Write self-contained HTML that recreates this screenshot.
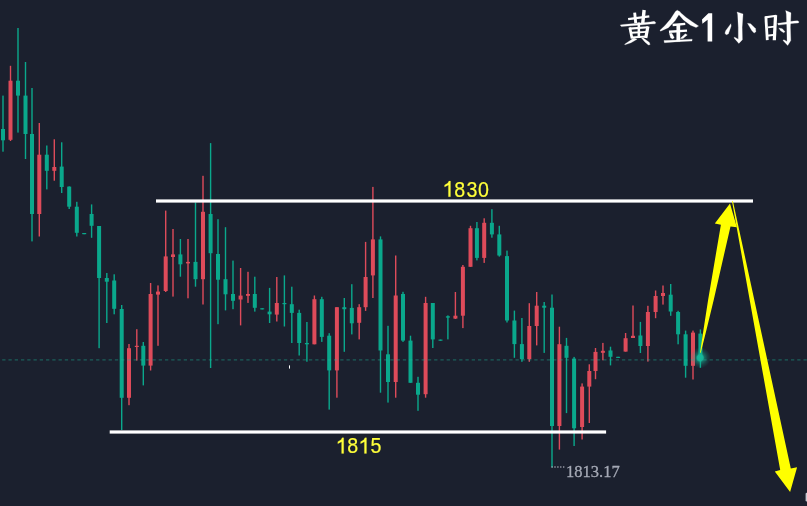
<!DOCTYPE html>
<html><head><meta charset="utf-8"><title>Gold 1H</title>
<style>
html,body{margin:0;padding:0;background:#1b202e;}
body{width:807px;height:506px;overflow:hidden;font-family:"Liberation Sans",sans-serif;}
svg{display:block;will-change:transform}
text{font-family:"Liberation Sans",sans-serif}
</style></head><body>
<svg width="807" height="506" viewBox="0 0 807 506">
<rect width="807" height="506" fill="#1b202e"/>
<g id="candles">
<rect x="2.30" y="95.6" width="1.4" height="56.1" fill="#0aa88c"/>
<rect x="1.00" y="129.0" width="4.0" height="11.3" fill="#0aa88c"/>
<rect x="9.80" y="65.8" width="1.4" height="75.2" fill="#de4b5a"/>
<rect x="8.50" y="80.7" width="4.0" height="59.1" fill="#de4b5a"/>
<rect x="17.30" y="28.0" width="1.4" height="104.6" fill="#0aa88c"/>
<rect x="16.00" y="80.7" width="4.0" height="14.9" fill="#0aa88c"/>
<rect x="24.80" y="62.0" width="1.4" height="97.0" fill="#0aa88c"/>
<rect x="23.50" y="95.6" width="4.0" height="38.4" fill="#0aa88c"/>
<rect x="31.30" y="88.0" width="1.4" height="153.4" fill="#0aa88c"/>
<rect x="30.00" y="134.0" width="4.0" height="80.0" fill="#0aa88c"/>
<rect x="38.60" y="123.0" width="1.4" height="113.5" fill="#de4b5a"/>
<rect x="37.30" y="154.7" width="4.0" height="59.3" fill="#de4b5a"/>
<rect x="46.10" y="145.5" width="1.4" height="43.9" fill="#0aa88c"/>
<rect x="44.80" y="154.7" width="4.0" height="16.1" fill="#0aa88c"/>
<rect x="53.60" y="139.3" width="1.4" height="41.4" fill="#de4b5a"/>
<rect x="52.30" y="167.0" width="4.0" height="3.8" fill="#de4b5a"/>
<rect x="61.00" y="142.3" width="1.4" height="50.7" fill="#0aa88c"/>
<rect x="59.70" y="166.6" width="4.0" height="20.4" fill="#0aa88c"/>
<rect x="68.50" y="186.4" width="1.4" height="22.6" fill="#0aa88c"/>
<rect x="67.20" y="186.6" width="4.0" height="20.1" fill="#0aa88c"/>
<rect x="76.10" y="201.8" width="1.4" height="34.7" fill="#0aa88c"/>
<rect x="74.80" y="206.7" width="4.0" height="26.1" fill="#0aa88c"/>
<rect x="83.50" y="233.0" width="1.4" height="1.2" fill="#0aa88c"/>
<rect x="82.20" y="233.0" width="4.0" height="1.2" fill="#0aa88c"/>
<rect x="90.90" y="204.4" width="1.4" height="33.4" fill="#0aa88c"/>
<rect x="89.60" y="214.0" width="4.0" height="11.8" fill="#0aa88c"/>
<rect x="98.40" y="226.0" width="1.4" height="122.2" fill="#0aa88c"/>
<rect x="97.10" y="226.0" width="4.0" height="52.0" fill="#0aa88c"/>
<rect x="106.10" y="273.0" width="1.4" height="50.0" fill="#0aa88c"/>
<rect x="104.80" y="278.0" width="4.0" height="3.7" fill="#0aa88c"/>
<rect x="113.50" y="274.3" width="1.4" height="40.0" fill="#0aa88c"/>
<rect x="112.20" y="280.5" width="4.0" height="28.3" fill="#0aa88c"/>
<rect x="121.00" y="305.0" width="1.4" height="125.0" fill="#0aa88c"/>
<rect x="119.70" y="309.0" width="4.0" height="88.8" fill="#0aa88c"/>
<rect x="128.30" y="344.0" width="1.4" height="61.2" fill="#de4b5a"/>
<rect x="127.00" y="348.2" width="4.0" height="49.6" fill="#de4b5a"/>
<rect x="136.10" y="329.2" width="1.4" height="31.4" fill="#de4b5a"/>
<rect x="134.80" y="345.8" width="4.0" height="1.2" fill="#de4b5a"/>
<rect x="142.60" y="342.0" width="1.4" height="43.4" fill="#0aa88c"/>
<rect x="141.30" y="345.8" width="4.0" height="19.8" fill="#0aa88c"/>
<rect x="149.90" y="283.0" width="1.4" height="87.5" fill="#de4b5a"/>
<rect x="148.60" y="294.0" width="4.0" height="71.6" fill="#de4b5a"/>
<rect x="157.30" y="285.4" width="1.4" height="60.4" fill="#de4b5a"/>
<rect x="156.00" y="291.6" width="4.0" height="3.0" fill="#de4b5a"/>
<rect x="165.00" y="210.6" width="1.4" height="81.4" fill="#de4b5a"/>
<rect x="163.70" y="256.4" width="4.0" height="34.6" fill="#de4b5a"/>
<rect x="172.30" y="229.0" width="1.4" height="67.6" fill="#de4b5a"/>
<rect x="171.00" y="254.4" width="4.0" height="2.6" fill="#de4b5a"/>
<rect x="179.70" y="239.0" width="1.4" height="37.7" fill="#0aa88c"/>
<rect x="178.40" y="254.4" width="4.0" height="9.9" fill="#0aa88c"/>
<rect x="187.30" y="239.0" width="1.4" height="59.3" fill="#de4b5a"/>
<rect x="186.00" y="261.9" width="4.0" height="1.5" fill="#de4b5a"/>
<rect x="194.80" y="202.4" width="1.4" height="84.3" fill="#0aa88c"/>
<rect x="193.50" y="261.9" width="4.0" height="17.3" fill="#0aa88c"/>
<rect x="202.30" y="175.8" width="1.4" height="128.7" fill="#de4b5a"/>
<rect x="201.00" y="211.8" width="4.0" height="67.4" fill="#de4b5a"/>
<rect x="209.90" y="143.1" width="1.4" height="224.9" fill="#0aa88c"/>
<rect x="208.60" y="214.0" width="4.0" height="39.2" fill="#0aa88c"/>
<rect x="217.30" y="219.2" width="1.4" height="105.0" fill="#0aa88c"/>
<rect x="216.00" y="254.0" width="4.0" height="25.7" fill="#0aa88c"/>
<rect x="224.80" y="227.2" width="1.4" height="83.2" fill="#0aa88c"/>
<rect x="223.50" y="279.2" width="4.0" height="15.1" fill="#0aa88c"/>
<rect x="232.30" y="260.6" width="1.4" height="48.6" fill="#0aa88c"/>
<rect x="231.00" y="294.0" width="4.0" height="6.8" fill="#0aa88c"/>
<rect x="239.90" y="268.0" width="1.4" height="57.4" fill="#de4b5a"/>
<rect x="238.60" y="295.6" width="4.0" height="3.9" fill="#de4b5a"/>
<rect x="247.30" y="271.8" width="1.4" height="31.1" fill="#de4b5a"/>
<rect x="246.00" y="294.0" width="4.0" height="1.8" fill="#de4b5a"/>
<rect x="254.10" y="276.7" width="1.4" height="34.9" fill="#0aa88c"/>
<rect x="252.80" y="294.0" width="4.0" height="13.8" fill="#0aa88c"/>
<rect x="261.50" y="308.3" width="1.4" height="1.1" fill="#0aa88c"/>
<rect x="260.20" y="308.3" width="4.0" height="1.1" fill="#0aa88c"/>
<rect x="268.90" y="287.9" width="1.4" height="35.1" fill="#0aa88c"/>
<rect x="267.60" y="311.6" width="4.0" height="2.7" fill="#0aa88c"/>
<rect x="276.10" y="277.0" width="1.4" height="44.5" fill="#de4b5a"/>
<rect x="274.80" y="303.0" width="4.0" height="11.6" fill="#de4b5a"/>
<rect x="283.70" y="275.4" width="1.4" height="51.1" fill="#0aa88c"/>
<rect x="282.40" y="303.0" width="4.0" height="1.2" fill="#0aa88c"/>
<rect x="291.10" y="286.7" width="1.4" height="56.3" fill="#0aa88c"/>
<rect x="289.80" y="304.2" width="4.0" height="8.7" fill="#0aa88c"/>
<rect x="298.50" y="309.7" width="1.4" height="45.8" fill="#0aa88c"/>
<rect x="297.20" y="312.9" width="4.0" height="30.1" fill="#0aa88c"/>
<rect x="306.20" y="322.0" width="1.4" height="39.7" fill="#0aa88c"/>
<rect x="304.90" y="343.0" width="4.0" height="1.3" fill="#0aa88c"/>
<rect x="313.70" y="295.5" width="1.4" height="48.8" fill="#de4b5a"/>
<rect x="312.40" y="299.2" width="4.0" height="45.1" fill="#de4b5a"/>
<rect x="321.10" y="296.8" width="1.4" height="45.1" fill="#0aa88c"/>
<rect x="319.80" y="299.2" width="4.0" height="37.7" fill="#0aa88c"/>
<rect x="328.50" y="333.2" width="1.4" height="76.4" fill="#0aa88c"/>
<rect x="327.20" y="335.7" width="4.0" height="34.7" fill="#0aa88c"/>
<rect x="336.20" y="307.2" width="1.4" height="90.5" fill="#de4b5a"/>
<rect x="334.90" y="307.2" width="4.0" height="63.2" fill="#de4b5a"/>
<rect x="343.60" y="298.0" width="1.4" height="53.8" fill="#0aa88c"/>
<rect x="342.30" y="307.2" width="4.0" height="2.0" fill="#0aa88c"/>
<rect x="351.10" y="284.2" width="1.4" height="50.2" fill="#0aa88c"/>
<rect x="349.80" y="307.9" width="4.0" height="15.4" fill="#0aa88c"/>
<rect x="358.50" y="304.2" width="1.4" height="35.2" fill="#de4b5a"/>
<rect x="357.20" y="307.2" width="4.0" height="15.6" fill="#de4b5a"/>
<rect x="364.90" y="241.9" width="1.4" height="69.0" fill="#de4b5a"/>
<rect x="363.60" y="277.0" width="4.0" height="30.2" fill="#de4b5a"/>
<rect x="372.20" y="186.9" width="1.4" height="111.1" fill="#de4b5a"/>
<rect x="370.90" y="239.4" width="4.0" height="36.0" fill="#de4b5a"/>
<rect x="379.80" y="236.4" width="1.4" height="156.3" fill="#0aa88c"/>
<rect x="378.50" y="239.4" width="4.0" height="111.1" fill="#0aa88c"/>
<rect x="387.30" y="325.8" width="1.4" height="76.8" fill="#0aa88c"/>
<rect x="386.00" y="354.3" width="4.0" height="27.7" fill="#0aa88c"/>
<rect x="395.00" y="255.5" width="1.4" height="142.2" fill="#de4b5a"/>
<rect x="393.70" y="295.5" width="4.0" height="86.5" fill="#de4b5a"/>
<rect x="402.30" y="291.8" width="1.4" height="50.1" fill="#0aa88c"/>
<rect x="401.00" y="294.0" width="4.0" height="46.6" fill="#0aa88c"/>
<rect x="409.80" y="335.7" width="1.4" height="47.1" fill="#0aa88c"/>
<rect x="408.50" y="340.6" width="4.0" height="42.2" fill="#0aa88c"/>
<rect x="417.30" y="376.8" width="1.4" height="34.0" fill="#0aa88c"/>
<rect x="416.00" y="382.8" width="4.0" height="11.9" fill="#0aa88c"/>
<rect x="424.90" y="296.8" width="1.4" height="100.9" fill="#de4b5a"/>
<rect x="423.60" y="303.0" width="4.0" height="91.2" fill="#de4b5a"/>
<rect x="432.10" y="303.0" width="1.4" height="45.0" fill="#0aa88c"/>
<rect x="430.80" y="303.0" width="4.0" height="36.4" fill="#0aa88c"/>
<rect x="439.80" y="339.6" width="1.4" height="1.1" fill="#0aa88c"/>
<rect x="438.50" y="339.6" width="4.0" height="1.1" fill="#0aa88c"/>
<rect x="447.20" y="315.4" width="1.4" height="24.0" fill="#0aa88c"/>
<rect x="445.90" y="316.3" width="4.0" height="1.3" fill="#0aa88c"/>
<rect x="454.70" y="292.0" width="1.4" height="27.0" fill="#de4b5a"/>
<rect x="453.40" y="315.7" width="4.0" height="2.9" fill="#de4b5a"/>
<rect x="462.20" y="265.0" width="1.4" height="63.1" fill="#de4b5a"/>
<rect x="460.90" y="266.8" width="4.0" height="48.9" fill="#de4b5a"/>
<rect x="469.80" y="225.8" width="1.4" height="41.0" fill="#de4b5a"/>
<rect x="468.50" y="228.2" width="4.0" height="38.6" fill="#de4b5a"/>
<rect x="476.20" y="222.0" width="1.4" height="38.4" fill="#0aa88c"/>
<rect x="474.90" y="228.2" width="4.0" height="29.7" fill="#0aa88c"/>
<rect x="483.50" y="218.3" width="1.4" height="44.6" fill="#de4b5a"/>
<rect x="482.20" y="222.8" width="4.0" height="35.1" fill="#de4b5a"/>
<rect x="491.20" y="209.2" width="1.4" height="28.5" fill="#0aa88c"/>
<rect x="489.90" y="222.8" width="4.0" height="11.6" fill="#0aa88c"/>
<rect x="498.60" y="225.8" width="1.4" height="30.8" fill="#0aa88c"/>
<rect x="497.30" y="234.4" width="4.0" height="21.1" fill="#0aa88c"/>
<rect x="506.30" y="250.6" width="1.4" height="71.9" fill="#0aa88c"/>
<rect x="505.00" y="256.1" width="4.0" height="64.4" fill="#0aa88c"/>
<rect x="513.70" y="310.6" width="1.4" height="47.2" fill="#0aa88c"/>
<rect x="512.40" y="320.5" width="4.0" height="23.6" fill="#0aa88c"/>
<rect x="521.20" y="318.0" width="1.4" height="43.8" fill="#0aa88c"/>
<rect x="519.90" y="344.1" width="4.0" height="15.1" fill="#0aa88c"/>
<rect x="528.60" y="303.2" width="1.4" height="58.6" fill="#de4b5a"/>
<rect x="527.30" y="326.0" width="4.0" height="33.2" fill="#de4b5a"/>
<rect x="536.00" y="292.0" width="1.4" height="53.4" fill="#de4b5a"/>
<rect x="534.70" y="305.7" width="4.0" height="20.3" fill="#de4b5a"/>
<rect x="543.50" y="302.0" width="1.4" height="50.9" fill="#0aa88c"/>
<rect x="542.20" y="305.7" width="4.0" height="2.0" fill="#0aa88c"/>
<rect x="551.30" y="294.5" width="1.4" height="172.9" fill="#0aa88c"/>
<rect x="550.00" y="307.7" width="4.0" height="118.3" fill="#0aa88c"/>
<rect x="558.70" y="326.7" width="1.4" height="122.9" fill="#de4b5a"/>
<rect x="557.40" y="344.2" width="4.0" height="81.8" fill="#de4b5a"/>
<rect x="565.80" y="337.9" width="1.4" height="75.2" fill="#0aa88c"/>
<rect x="564.50" y="345.8" width="4.0" height="12.0" fill="#0aa88c"/>
<rect x="573.40" y="356.9" width="1.4" height="89.1" fill="#0aa88c"/>
<rect x="572.10" y="358.6" width="4.0" height="69.7" fill="#0aa88c"/>
<rect x="581.40" y="383.4" width="1.4" height="56.1" fill="#de4b5a"/>
<rect x="580.10" y="386.6" width="4.0" height="40.4" fill="#de4b5a"/>
<rect x="588.60" y="364.3" width="1.4" height="58.7" fill="#de4b5a"/>
<rect x="587.30" y="371.0" width="4.0" height="15.6" fill="#de4b5a"/>
<rect x="594.80" y="348.0" width="1.4" height="31.2" fill="#de4b5a"/>
<rect x="593.50" y="351.9" width="4.0" height="19.1" fill="#de4b5a"/>
<rect x="602.20" y="342.9" width="1.4" height="17.4" fill="#de4b5a"/>
<rect x="600.90" y="350.8" width="4.0" height="2.0" fill="#de4b5a"/>
<rect x="609.80" y="346.7" width="1.4" height="18.7" fill="#0aa88c"/>
<rect x="608.50" y="350.5" width="4.0" height="6.3" fill="#0aa88c"/>
<rect x="617.40" y="356.8" width="1.4" height="1.1" fill="#0aa88c"/>
<rect x="616.10" y="356.8" width="4.0" height="1.1" fill="#0aa88c"/>
<rect x="624.90" y="333.0" width="1.4" height="18.6" fill="#de4b5a"/>
<rect x="623.60" y="338.2" width="4.0" height="13.4" fill="#de4b5a"/>
<rect x="632.30" y="305.5" width="1.4" height="32.5" fill="#de4b5a"/>
<rect x="631.00" y="335.8" width="4.0" height="2.2" fill="#de4b5a"/>
<rect x="639.70" y="321.9" width="1.4" height="31.1" fill="#0aa88c"/>
<rect x="638.40" y="335.5" width="4.0" height="10.5" fill="#0aa88c"/>
<rect x="647.20" y="305.8" width="1.4" height="55.8" fill="#de4b5a"/>
<rect x="645.90" y="312.0" width="4.0" height="34.0" fill="#de4b5a"/>
<rect x="654.90" y="290.5" width="1.4" height="27.7" fill="#de4b5a"/>
<rect x="653.60" y="296.0" width="4.0" height="16.0" fill="#de4b5a"/>
<rect x="662.30" y="285.5" width="1.4" height="19.1" fill="#de4b5a"/>
<rect x="661.00" y="293.0" width="4.0" height="3.0" fill="#de4b5a"/>
<rect x="670.00" y="284.0" width="1.4" height="31.8" fill="#0aa88c"/>
<rect x="668.70" y="294.7" width="4.0" height="16.8" fill="#0aa88c"/>
<rect x="677.40" y="310.8" width="1.4" height="33.5" fill="#0aa88c"/>
<rect x="676.10" y="312.0" width="4.0" height="22.3" fill="#0aa88c"/>
<rect x="684.90" y="330.6" width="1.4" height="47.1" fill="#0aa88c"/>
<rect x="683.60" y="334.3" width="4.0" height="31.5" fill="#0aa88c"/>
<rect x="692.30" y="330.6" width="1.4" height="48.9" fill="#de4b5a"/>
<rect x="691.00" y="332.6" width="4.0" height="33.2" fill="#de4b5a"/>
<rect x="699.70" y="329.4" width="1.4" height="38.4" fill="#0aa88c"/>
<rect x="698.40" y="333.6" width="4.0" height="23.8" fill="#0aa88c"/>
</g>
<line x1="2.2" y1="359.9" x2="807" y2="359.9" stroke="#1eb99b" stroke-width="1.3" stroke-dasharray="3.3 2.96" opacity="0.4"/>
<rect x="289" y="365.4" width="1" height="3.2" fill="#fff"/>
<rect x="156" y="199.4" width="597" height="3.2" fill="#fff"/>
<rect x="109.7" y="430.4" width="496.4" height="3.2" fill="#fff"/>
<g fill="#ffff3a" stroke="#ffff3a" stroke-width="0.2"><polygon points="450.5,181.1 448.9,181.1 447.9,183.0 444.6,185.0 444.6,187.0 448.4,185.0 448.4,196.7 450.5,196.7"/><text transform="translate(459.80 196.5) scale(0.9 1)" x="0" y="0" text-anchor="middle" font-size="21.8">8</text><text transform="translate(471.85 196.5) scale(0.9 1)" x="0" y="0" text-anchor="middle" font-size="21.8">3</text><text transform="translate(483.55 196.5) scale(0.9 1)" x="0" y="0" text-anchor="middle" font-size="21.8">0</text><polygon points="343.7,437.8 342.1,437.8 341.1,439.7 337.8,441.7 337.8,443.7 341.6,441.7 341.6,453.4 343.7,453.4"/><text transform="translate(352.80 453.2) scale(0.9 1)" x="0" y="0" text-anchor="middle" font-size="21.8">8</text><polygon points="366.5,437.8 364.9,437.8 363.9,439.7 360.6,441.7 360.6,443.7 364.4,441.7 364.4,453.4 366.5,453.4"/><text transform="translate(376.00 453.2) scale(0.9 1)" x="0" y="0" text-anchor="middle" font-size="21.8">5</text></g>
<g fill="#c8cad4"><rect x="551.5" y="466.4" width="1.2" height="1.2"/><rect x="554.4" y="466.4" width="1.2" height="1.2"/><rect x="557.3" y="466.4" width="1.2" height="1.2"/><rect x="560.2" y="466.4" width="1.2" height="1.2"/><rect x="563.1" y="466.4" width="1.2" height="1.2"/></g>
<text x="566" y="477.1" font-size="16.5" fill="#a6aab6" stroke="#a6aab6" stroke-width="0.3" style="font-family:'Liberation Serif',serif">1813.17</text>
<defs><radialGradient id="glow"><stop offset="0" stop-color="#16b99b" stop-opacity="1"/><stop offset="0.28" stop-color="#16b99b" stop-opacity="0.95"/><stop offset="0.42" stop-color="#14b496" stop-opacity="0.5"/><stop offset="0.7" stop-color="#14b496" stop-opacity="0.2"/><stop offset="1" stop-color="#14b496" stop-opacity="0"/></radialGradient></defs>
<circle cx="700.2" cy="357.8" r="10.5" fill="url(#glow)"/>
<g id="arrows" fill="#ffff00">
<polygon points="700,353 703.5,329.7 708.1,300 715.75,255 720.9,224.7 714.8,223.5 730,203.5 736.9,227.3 730.5,226.6 723.95,255 713.7,300 706.5,329.7 700.8,352.6"/>
<polygon points="732,201.2 732.9,200.9 790.8,468.5 797.1,467.2 790.1,491.9 774.8,471.6 780.2,470.1"/>
</g>
<g id="title">
<path d="M634.66 12.59 L635.73 23.21" fill="none" stroke="#fff" stroke-width="2.89" stroke-linecap="butt" stroke-linejoin="round"/>
<path d="M644.11 10.04 L642.74 23.36" fill="none" stroke="#fff" stroke-width="3.40" stroke-linecap="butt" stroke-linejoin="round"/>
<path d="M628.11 19.06 L649.31 16.30" fill="none" stroke="#fff" stroke-width="2.29" stroke-linecap="butt" stroke-linejoin="round"/>
<polygon points="620.16,24.93 621.41,26.62 637.24,25.28 650.59,24.04 655.21,23.86 655.75,22.44 654.15,21.37 650.14,21.90 637.24,23.15 623.45,24.48" fill="#fff" stroke="#fff" stroke-width="0.25" stroke-linejoin="round"/>
<path d="M629.78 27.51 L632.07 38.54" fill="none" stroke="#fff" stroke-width="2.72" stroke-linecap="butt" stroke-linejoin="round"/>
<path d="M629.34 28.62 L648.35 27.20" fill="none" stroke="#fff" stroke-width="2.04" stroke-linecap="butt" stroke-linejoin="round"/>
<path d="M647.92 26.47 L645.78 37.98" fill="none" stroke="#fff" stroke-width="3.23" stroke-linecap="butt" stroke-linejoin="round"/>
<path d="M638.84 22.47 L638.84 37.79" fill="none" stroke="#fff" stroke-width="2.55" stroke-linecap="butt" stroke-linejoin="round"/>
<path d="M631.52 32.79 L646.70 31.83" fill="none" stroke="#fff" stroke-width="1.87" stroke-linecap="butt" stroke-linejoin="round"/>
<path d="M631.45 37.51 L646.42 36.54" fill="none" stroke="#fff" stroke-width="2.12" stroke-linecap="butt" stroke-linejoin="round"/>
<polygon points="633.86,38.10 637.06,39.25 631.01,42.81 624.96,44.86 624.61,44.15 630.12,40.59" fill="#fff" stroke="#fff" stroke-width="0.25" stroke-linejoin="round"/>
<polygon points="641.51,38.10 643.29,38.10 649.25,42.37 650.14,44.59 648.36,45.04 644.80,41.92" fill="#fff" stroke="#fff" stroke-width="0.25" stroke-linejoin="round"/>
<polygon points="677.24,10.16 680.44,12.12 679.02,14.43 675.02,20.66 668.35,27.78 660.52,31.16 659.98,30.27 664.79,25.82 670.57,19.06 675.46,11.41" fill="#fff" stroke="#fff" stroke-width="0.25" stroke-linejoin="round"/>
<polygon points="678.31,12.12 680.62,12.65 686.14,17.46 693.26,22.44 698.59,26.00 696.10,27.60 690.59,25.28 683.47,19.95 678.31,14.07" fill="#fff" stroke="#fff" stroke-width="0.25" stroke-linejoin="round"/>
<path d="M672.62 24.99 L685.25 23.89" fill="none" stroke="#fff" stroke-width="2.38" stroke-linecap="butt" stroke-linejoin="round"/>
<path d="M668.97 31.74 L687.03 30.58" fill="none" stroke="#fff" stroke-width="2.38" stroke-linecap="butt" stroke-linejoin="round"/>
<path d="M678.31 24.16 L678.31 41.53" fill="none" stroke="#fff" stroke-width="3.74" stroke-linecap="butt" stroke-linejoin="round"/>
<polygon points="669.23,33.29 671.90,33.29 674.22,37.47 672.79,39.07 670.66,37.92" fill="#fff" stroke="#fff" stroke-width="0.25" stroke-linejoin="round"/>
<polygon points="685.25,33.65 687.30,34.89 683.11,38.45 680.36,38.72 681.51,37.21" fill="#fff" stroke="#fff" stroke-width="0.25" stroke-linejoin="round"/>
<polygon points="663.90,40.59 664.43,42.72 678.13,41.65 692.01,41.12 692.19,39.16 678.13,40.05" fill="#fff" stroke="#fff" stroke-width="0.25" stroke-linejoin="round"/>
<polygon points="737.06,11.94 743.02,13.90 742.14,27.24 742.40,39.70 738.84,43.43 733.86,37.74 734.75,37.21 738.31,39.25 738.31,27.24 737.69,14.79" fill="#fff" stroke="#fff" stroke-width="0.25" stroke-linejoin="round"/>
<polygon points="730.84,23.68 731.19,25.91 728.35,33.91 726.12,34.80 724.96,33.29 725.68,30.80" fill="#fff" stroke="#fff" stroke-width="0.25" stroke-linejoin="round"/>
<polygon points="747.47,23.24 750.59,23.68 755.48,28.58 755.93,31.69 754.15,33.02 751.92,30.80" fill="#fff" stroke="#fff" stroke-width="0.25" stroke-linejoin="round"/>
<path d="M765.85 16.44 L767.28 40.09" fill="none" stroke="#fff" stroke-width="2.80" stroke-linecap="butt" stroke-linejoin="round"/>
<path d="M765.27 17.37 L776.31 15.76" fill="none" stroke="#fff" stroke-width="2.12" stroke-linecap="butt" stroke-linejoin="round"/>
<path d="M775.55 15.15 L774.30 40.22" fill="none" stroke="#fff" stroke-width="3.23" stroke-linecap="butt" stroke-linejoin="round"/>
<path d="M768.03 27.30 L774.44 26.56" fill="none" stroke="#fff" stroke-width="1.78" stroke-linecap="butt" stroke-linejoin="round"/>
<path d="M766.87 35.78 L774.98 34.72" fill="none" stroke="#fff" stroke-width="2.12" stroke-linecap="butt" stroke-linejoin="round"/>
<polygon points="777.64,23.33 778.35,25.11 787.25,24.04 794.37,23.24 798.46,22.97 798.99,21.73 797.48,20.75 793.92,21.10 787.25,21.99 780.13,23.06" fill="#fff" stroke="#fff" stroke-width="0.25" stroke-linejoin="round"/>
<polygon points="785.65,10.52 790.99,12.83 790.36,27.24 790.81,40.59 787.69,45.48 782.98,40.41 783.87,39.70 787.07,41.48 786.80,27.24 786.36,13.90" fill="#fff" stroke="#fff" stroke-width="0.25" stroke-linejoin="round"/>
<polygon points="778.80,27.95 782.36,28.84 785.02,31.69 783.69,32.76 780.58,30.80" fill="#fff" stroke="#fff" stroke-width="0.25" stroke-linejoin="round"/>
</g>
<polygon fill="#fff" points="712.2,13.2 708.4,13.2 702,19.6 702.4,23.8 707.6,19.8 707.6,41.6 712.2,41.6"/>
<rect x="805.6" y="492.8" width="3" height="8.7" rx="1.2" fill="#c9c9d2"/>
</svg>
</body></html>
